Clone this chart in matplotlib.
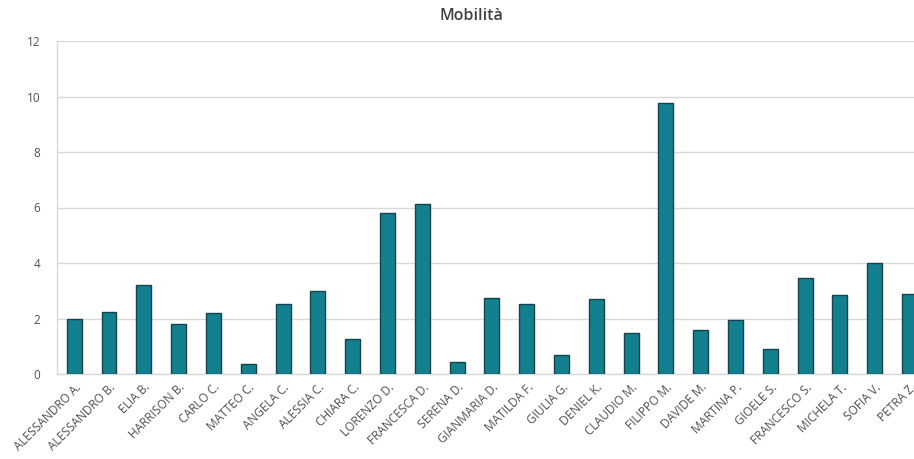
import matplotlib
matplotlib.use("Agg")
import matplotlib.pyplot as plt
import numpy as np

names = ["ALESSANDRO A.", "ALESSANDRO B.", "ELIA B.", "HARRISON B.", "CARLO C.",
         "MATTEO C.", "ANGELA C.", "ALESSIA C.", "CHIARA C.", "LORENZO D.",
         "FRANCESCA D.", "SERENA D.", "GIANMARIA D.", "MATILDA F.", "GIULIA G.",
         "DENIEL K.", "CLAUDIO M.", "FILIPPO M.", "DAVIDE M.", "MARTINA P.",
         "GIOELE S.", "FRANCESCO S.", "MICHELA T.", "SOFIA V.", "PETRA Z."]
values = [1.98, 2.25, 3.2, 1.8, 2.19, 0.36, 2.53, 3.0, 1.25, 5.8,
          6.13, 0.44, 2.75, 2.53, 0.68, 2.71, 1.47, 9.78, 1.59, 1.95,
          0.89, 3.46, 2.84, 4.0, 2.88]
yticks = [0, 2, 4, 6, 8, 10, 12]
title = "Mobilità"

plt.rcParams['font.family'] = ['Open Sans', 'DejaVu Sans']

W, H = 914, 459
fig = plt.figure(figsize=(W / 100, H / 100), dpi=100)
left, right = 56.8, 927.0
top, bottom = 41.0, 374.0
ax = fig.add_axes([left / W, 1 - bottom / H, (right - left) / W, (bottom - top) / H])

x = np.arange(len(names))
ax.bar(x, values, width=0.43, color="#138090", edgecolor="#16434a", linewidth=1.0, zorder=3)

ax.set_xlim(-0.5, len(names) - 0.5)
ax.set_ylim(0, 12)
ax.set_yticks(yticks)
ax.set_yticklabels([str(t) for t in yticks], fontsize=8.5, color="#505050")
ax.yaxis.grid(True, color="#d9d9d9", linewidth=1.0, zorder=0)
ax.tick_params(axis="y", length=0, pad=12)
ax.tick_params(axis="x", length=0, pad=5)
ax.set_xticks(x)
ax.set_xticklabels(names, rotation=45, ha="right", va="top", rotation_mode="anchor",
                   fontsize=8.6, color="#505050")
for s in ["top", "right"]:
    ax.spines[s].set_visible(False)
ax.spines["left"].set_color("#d9d9d9")
ax.spines["bottom"].set_color("#d9d9d9")
ax.spines["left"].set_linewidth(1.0)
ax.spines["bottom"].set_linewidth(1.0)

fig.text(471 / W, 1 - 16 / H, title, ha="center", va="center", fontsize=11.5,
         color="#404040", fontweight="semibold")

fig.savefig("out.png", dpi=100)
